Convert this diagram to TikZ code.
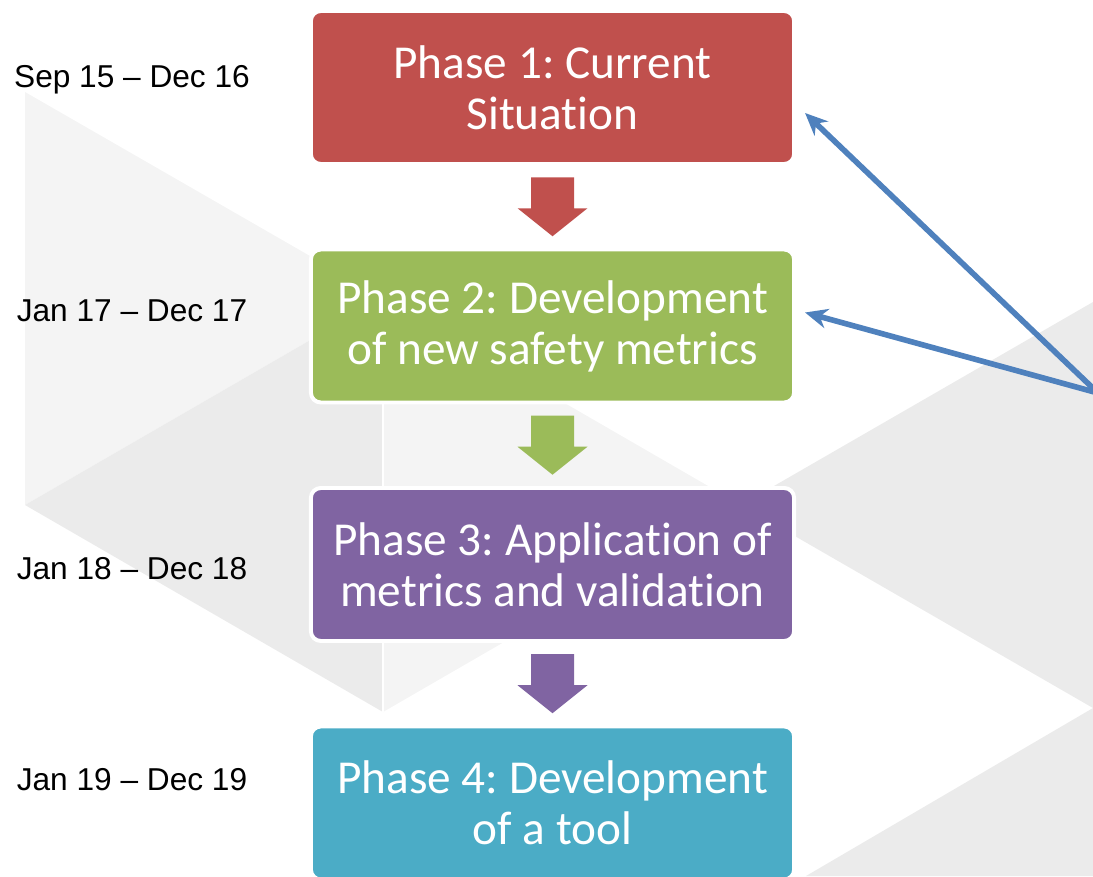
\documentclass[tikz,border=0pt]{standalone}
\usepackage{fontspec}
\usepackage{tikz}
\usetikzlibrary{arrows.meta,calc,positioning}
\newfontfamily\boxfont[Ligatures=NoCommon,RawFeature=-clig]{Carlito}
\newfontfamily\datefont{Liberation Sans}
\definecolor{phaseone}{HTML}{C0504D}
\definecolor{phasetwo}{HTML}{9BBB59}
\definecolor{phasethree}{HTML}{8064A2}
\definecolor{phasefour}{HTML}{4BACC6}
\definecolor{linkblue}{HTML}{4F81BD}
\definecolor{bglight}{HTML}{F4F4F4}
\definecolor{bgdark}{HTML}{EBEBEB}
\tikzstyle{phase}=[rectangle, rounded corners=7pt, draw=white, line width=2.8pt,
  minimum width=343.6pt, minimum height=108.8pt, align=center, text=white,
  font=\boxfont\fontsize{33.6}{36.3}\selectfont\frenchspacing]
\tikzstyle{date}=[anchor=base, font=\datefont\fontsize{22.5}{27}\selectfont]
\tikzstyle{link}=[linkblue, line width=4pt, -{Stealth[length=16pt,width=14pt]}]
\newcommand{\blockarrow}[3]{%
  \coordinate (#1mid) at ($(#1.south)!0.5!(#2.north)$);
  \fill[#3, shift={(#1mid)}] (-21.5,-29.5) -- (21.5,-29.5) -- (21.5,1.5) -- (35,1.5)
    -- (0,29.5) -- (-35,1.5) -- (-21.5,1.5) -- cycle;}

\begin{document}
\begin{tikzpicture}[x=0.025cm, y=-0.025cm]
  \useasboundingbox (0,0) rectangle (1093,876);
  \clip (0,0) rectangle (1093,876);
  % background facets
  \fill[bglight] (25,92) -- (25,505) -- (383,298) -- cycle;
  \fill[bgdark] (25,505) -- (383,298) -- (383,712) -- cycle;
  \fill[bglight] (383,298) -- (383,712) -- (741,505) -- cycle;
  \fill[bgdark] (741,505) -- (1093,302) -- (1093,708) -- cycle;
  \fill[bgdark] (1093,708) -- (1093,876) -- (806,876) -- cycle;
  \draw[white, line width=1pt] (383,298) -- (383,712);
  % phases
  \node[phase, fill=phaseone] (p1) at (552.5,87.5) {Phase 1: Current\\Situation};
  \node[phase, fill=phasetwo, below=58pt of p1]
    (p2) {Phase 2: Development\\of new safety metrics};
  \node[phase, fill=phasethree, below=58pt of p2]
    (p3) {Phase 3: Application of\\metrics and validation};
  \node[phase, fill=phasefour, below=58pt of p3]
    (p4) {Phase 4: Development\\of a tool};
  % block arrows
  \blockarrow{p1}{p2}{phaseone}
  \blockarrow{p2}{p3}{phasetwo}
  \blockarrow{p3}{p4}{phasethree}
  % dates
  \node[date] (d1) at (132,87) {Sep 15 – Dec 16};
  \node[date] (d2) at (132,321) {Jan 17 – Dec 17};
  \node[date] (d3) at (132,579) {Jan 18 – Dec 18};
  \node[date] (d4) at (132,790) {Jan 19 – Dec 19};
  % pointers
  \coordinate (hub) at (1098,393);
  \draw[link] (hub) -- ($(p1.east)+(9,25.5)$);
  \draw[link] (hub) -- ($(p2.east)+(9,-13.5)$);
\end{tikzpicture}
\end{document}
